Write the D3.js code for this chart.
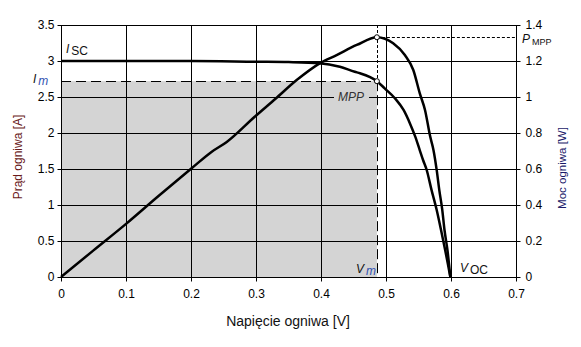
<!DOCTYPE html>
<html>
<head>
<meta charset="utf-8">
<script src="https://cdn.jsdelivr.net/npm/d3@7"></script>
<style>
  html, body { margin: 0; padding: 0; background: #fff; }
  svg { display: block; font-family: "Liberation Sans", Arial, sans-serif; }
</style>
</head>
<body>
<svg id="chart" width="581" height="347"></svg>
<script>
// Current–voltage characteristic of the cell
const ivVoltage = [0, 0.1, 0.2, 0.3, 0.35, 0.398, 0.429, 0.452, 0.46, 0.486, 0.498, 0.514, 0.527, 0.537, 0.545, 0.552, 0.557, 0.5626, 0.570, 0.578, 0.5857, 0.591, 0.595, 0.599];
const ivCurrent = [3.0, 3.0, 3.0, 2.99, 2.985, 2.97, 2.92, 2.85, 2.83, 2.72, 2.62, 2.48, 2.32, 2.13, 1.95, 1.76, 1.625, 1.486, 1.21, 0.93, 0.607, 0.375, 0.19, 0];

// Power–voltage characteristic of the cell
const pvVoltage = [0, 0.05, 0.101, 0.15, 0.201, 0.232, 0.255, 0.298, 0.33, 0.3626, 0.398, 0.424, 0.455, 0.486, 0.511, 0.529, 0.542, 0.552, 0.560, 0.568, 0.573, 0.578, 0.582, 0.5866, 0.5900, 0.5945, 0.599];
const pvPower   = [0, 0.148, 0.298, 0.45, 0.604, 0.696, 0.75, 0.89, 0.99, 1.094, 1.187, 1.233, 1.289, 1.332, 1.298, 1.233, 1.15, 1.02, 0.928, 0.78, 0.706, 0.594, 0.483, 0.372, 0.261, 0.15, 0];

// Maximum power point
const vMpp = 0.486;
const iMpp = 2.72;
const pMpp = 1.332;

// Axis ticks
const xTicks = [0, 0.1, 0.2, 0.3, 0.4, 0.5, 0.6, 0.7];
const xTickLabels = ["0", "0.1", "0.2", "0.3", "0.4", "0.5", "0.6", "0.7"];
const iTicks = [0, 0.5, 1, 1.5, 2, 2.5, 3, 3.5];
const iTickLabels = ["0", "0.5", "1", "1.5", "2", "2.5", "3", "3.5"];
const pTicks = [0, 0.2, 0.4, 0.6, 0.8, 1, 1.2, 1.4];
const pTickLabels = ["0", "0.2", "0.4", "0.6", "0.8", "1", "1.2", "1.4"];

const svg = d3.select("#chart");
const plotL = 61, plotR = 516, plotT = 25, plotB = 277;

const x = d3.scaleLinear().domain([0, 0.7]).range([plotL, plotR]);
const yI = d3.scaleLinear().domain([0, 3.5]).range([plotB, plotT]);
const yP = d3.scaleLinear().domain([0, 1.4]).range([plotB, plotT]);

const shade = "#d4d4d4";

// Shaded rectangle: area under the MPP
svg.append("rect")
  .attr("x", x(0)).attr("y", yI(iMpp))
  .attr("width", x(vMpp) - x(0)).attr("height", yI(0) - yI(iMpp))
  .attr("fill", shade);

// Grid
const grid = svg.append("g").attr("stroke", "#000").attr("stroke-width", 1).attr("shape-rendering", "crispEdges");
grid.selectAll("line.v").data(xTicks).join("line")
  .attr("x1", d => Math.round(x(d)) + 0.5).attr("x2", d => Math.round(x(d)) + 0.5)
  .attr("y1", plotT).attr("y2", plotB);
grid.selectAll("line.h").data(iTicks).join("line")
  .attr("x1", plotL).attr("x2", plotR + 0.5)
  .attr("y1", d => Math.round(yI(d)) + 0.5).attr("y2", d => Math.round(yI(d)) + 0.5);

// Axes
const fmt = (arr, labels) => d => labels[arr.indexOf(d)];
const styleAxis = g => {
  g.select(".domain").remove();
  g.selectAll(".tick line").attr("stroke", "#000");
  g.selectAll(".tick text").attr("fill", "#000").style("font-size", "12px")
    .style("font-family", "'Liberation Sans', Arial, sans-serif");
};
svg.append("g").attr("transform", `translate(${plotL + 0.5},0)`)
  .call(d3.axisLeft(yI).tickValues(iTicks).tickFormat(fmt(iTicks, iTickLabels)).tickSize(4).tickPadding(3).tickSizeOuter(0))
  .call(styleAxis);
svg.append("g").attr("transform", `translate(${plotR + 0.5},0)`)
  .call(d3.axisRight(yP).tickValues(pTicks).tickFormat(fmt(pTicks, pTickLabels)).tickSize(4).tickPadding(5).tickSizeOuter(0))
  .call(styleAxis);
svg.append("g").attr("transform", `translate(0,${plotB + 0.5})`)
  .call(d3.axisBottom(x).tickValues(xTicks).tickFormat(fmt(xTicks, xTickLabels)).tickSize(4).tickPadding(8).tickSizeOuter(0))
  .call(styleAxis);

// Shaded backing behind the "MPP" label, interrupting the grid line
svg.append("rect").attr("x", 334).attr("y", 91)
  .attr("width", 35).attr("height", 13).attr("fill", shade);

// Dashed guide lines to the MPP
svg.append("line")
  .attr("x1", x(0)).attr("x2", x(vMpp))
  .attr("y1", Math.round(yI(iMpp)) + 0.5).attr("y2", Math.round(yI(iMpp)) + 0.5)
  .attr("stroke", "#000").attr("stroke-dasharray", "10,5");
svg.append("line")
  .attr("x1", Math.round(x(vMpp)) + 0.5).attr("x2", Math.round(x(vMpp)) + 0.5)
  .attr("y1", yI(iMpp)).attr("y2", plotB)
  .attr("stroke", "#000").attr("stroke-dasharray", "10,4");
svg.append("line")
  .attr("x1", Math.round(x(vMpp)) + 0.5).attr("x2", Math.round(x(vMpp)) + 0.5)
  .attr("y1", plotT).attr("y2", yI(iMpp))
  .attr("stroke", "#000").attr("stroke-dasharray", "3,2");
svg.append("line")
  .attr("x1", x(vMpp)).attr("x2", plotR)
  .attr("y1", Math.round(yP(pMpp)) + 0.5).attr("y2", Math.round(yP(pMpp)) + 0.5)
  .attr("stroke", "#000").attr("stroke-dasharray", "3,2");

// Curves
const ivData = ivVoltage.map((v, i) => [v, ivCurrent[i]]);
const pvData = pvVoltage.map((v, i) => [v, pvPower[i]]);
svg.append("path").datum(ivData)
  .attr("d", d3.line().x(d => x(d[0])).y(d => yI(d[1])).curve(d3.curveMonotoneX))
  .attr("fill", "none").attr("stroke", "#000").attr("stroke-width", 2.5);
svg.append("path").datum(pvData)
  .attr("d", d3.line().x(d => x(d[0])).y(d => yP(d[1])).curve(d3.curveMonotoneX))
  .attr("fill", "none").attr("stroke", "#000").attr("stroke-width", 2.5);

// MPP markers
svg.append("circle").attr("cx", x(vMpp)).attr("cy", yI(iMpp)).attr("r", 2.5)
  .attr("fill", "#fff").attr("stroke", "#000").attr("stroke-width", 1);
svg.append("circle").attr("cx", x(vMpp)).attr("cy", yP(pMpp)).attr("r", 2.5)
  .attr("fill", "#fff").attr("stroke", "#000").attr("stroke-width", 1);

// Annotation text
const ann = svg.append("g").style("font-size", "12px").attr("fill", "#111");
function symbol(px, py, main, sub, subItalic, subColor, subSize) {
  const t = ann.append("text").attr("x", px).attr("y", py);
  t.append("tspan").text(main).style("font-style", "italic");
  t.append("tspan").text(sub).attr("dx", 2).attr("dy", 2)
    .style("font-style", subItalic ? "italic" : "normal")
    .style("font-size", subSize)
    .attr("fill", subColor);
}
symbol(66, 53, "I", "SC", false, "#111", "12px");
symbol(33, 83, "I", "m", true, "#3050b0", "12px");
symbol(356, 273, "V", "m", true, "#3050b0", "12px");
symbol(460, 272, "V", "OC", false, "#111", "12px");
symbol(522, 43, "P", "MPP", false, "#111", "9px");
ann.append("text").attr("x", 351).attr("y", 101)
  .attr("text-anchor", "middle").style("font-style", "italic").attr("fill", "#333").text("MPP");

// Axis titles
svg.append("text").attr("x", 288).attr("y", 326).attr("text-anchor", "middle")
  .style("font-size", "14px").attr("fill", "#111").text("Napięcie ogniwa [V]");
svg.append("text").attr("transform", "translate(22,157) rotate(-90)").attr("text-anchor", "middle")
  .style("font-size", "12px").attr("fill", "#6a1a1a").text("Prąd ogniwa [A]");
svg.append("text").attr("transform", "translate(566,168) rotate(-90)").attr("text-anchor", "middle")
  .style("font-size", "11.5px").attr("fill", "#1a1a6a").text("Moc ogniwa [W]");
</script>
</body>
</html>
